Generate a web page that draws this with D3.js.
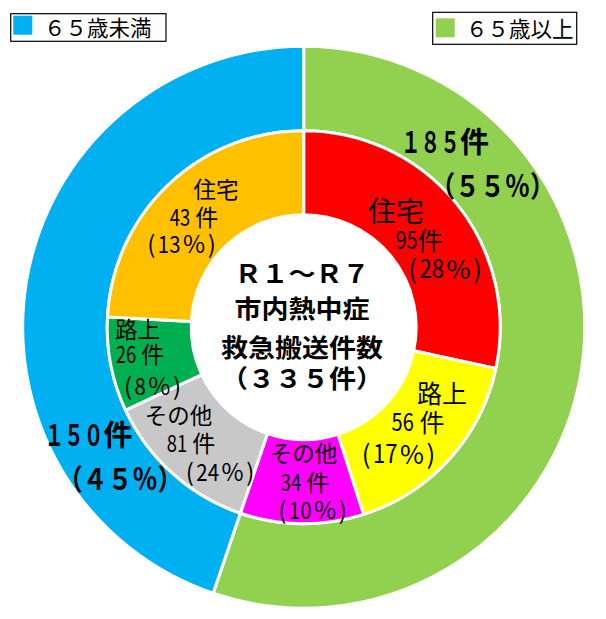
<!DOCTYPE html>
<html><head><meta charset="utf-8">
<script src="https://cdn.jsdelivr.net/npm/d3@7"></script>
<style>html,body{margin:0;padding:0;background:#fff;}svg{display:block;}text{white-space:pre;}</style>
</head><body>
<svg id="chart" width="606" height="619"></svg>
<script>
// ---- data ----
const outerCategories = ["６５歳以上", "６５歳未満"];
const outerValues = [185, 150];
// inner slices as drawn in the picture (angular sizes read from the rings)
const innerSliceValues = [95, 56, 34, 43, 26, 81];
// inner labels as printed on the picture
const innerCategories = ["住宅", "路上", "その他", "その他", "路上", "住宅"];
const innerGroups = ["６５歳以上", "６５歳以上", "６５歳以上", "６５歳未満", "６５歳未満", "６５歳未満"];
const innerLabelCounts = [95, 56, 34, 81, 26, 43];
const centerTitle = ["Ｒ１～Ｒ７", "市内熱中症", "救急搬送件数"];
const legendOrder = ["６５歳未満", "６５歳以上"];

// ---- styles / layout ----
const outerColors = {"６５歳以上": "#92D050", "６５歳未満": "#00B0F0"};
const innerColors = ["#FF0000", "#FFFF00", "#FF00FF", "#C8C8C8", "#00B050", "#FFC000"];
const FONT = "'Noto Sans CJK JP', 'Noto Sans', sans-serif";
const cx = 303.7, cy = 327.2;
const rOuter = 281, rMid = 196.5, rHole = 112.5;

const innerLabelLayout = [
  {x: [396, 419, 445], y: [210, 239, 267], jp: 28, num: 25, space: ""},
  {x: [442, 418, 398.5], y: [392, 421, 452], jp: 25, num: 25, space: " "},
  {x: [303.5, 305, 312.5], y: [452, 481, 508], jp: 22.5, num: 23, space: " "},
  {x: [178.5, 191, 220], y: [414, 442, 470], jp: 22.5, num: 23, space: " "},
  {x: [137.5, 140, 152.5], y: [328, 353, 384], jp: 22.5, num: 23, space: " "},
  {x: [216, 194, 181.5], y: [188, 216, 242], jp: 22.5, num: 23, space: " "}
];
const outerLabelLayout = [
  {x: [445, 492.5], y: [140, 185]},
  {x: [88.5, 120], y: [433, 478]}
];
const centerLineY = [272, 306.5, 346, 377];
const legendLayout = [
  {box: [10.7, 13.7, 155.3, 27.6], sw: [13.3, 15.7], tx: 44, ty: 26},
  {box: [432.7, 12.3, 144, 32], sw: [435.7, 18.3], tx: 466, ty: 27}
];

const total = d3.sum(outerValues);
const pct = v => Math.round(v / total * 100);
const toFull = s => String(s).replace(/[0-9]/g, c => String.fromCharCode(c.charCodeAt(0) + 0xFEE0));

const svg = d3.select("#chart");
const g = svg.append("g").attr("transform", `translate(${cx},${cy})`);

const pie = d3.pie().sort(null).value(d => d);
const outerArc = d3.arc().innerRadius(rMid).outerRadius(rOuter);
const innerArc = d3.arc().innerRadius(rHole).outerRadius(rMid);

g.selectAll("path.outer").data(pie(outerValues)).join("path")
  .attr("class", "outer")
  .attr("d", outerArc)
  .attr("fill", (d, i) => outerColors[outerCategories[i]])
  .attr("stroke", "#fff").attr("stroke-width", 3).attr("stroke-linejoin", "round");

g.selectAll("path.inner").data(pie(innerSliceValues)).join("path")
  .attr("class", "inner")
  .attr("d", innerArc)
  .attr("fill", (d, i) => innerColors[i])
  .attr("stroke", "#fff").attr("stroke-width", 3).attr("stroke-linejoin", "round");

// ---- text helper: narrow digits, separate paren runs ----
function drawLine(parent, x, y, str, opt) {
  const size = opt.size, weight = opt.weight || 400, dsx = opt.digitSx || 1, sx = opt.sx || 1, gap = opt.gap || 0;
  const runs = str.split(/([0-9０-９]+|[()%])/).filter(s => s.length)
    .map(s => [s, /^[0-9０-９]+$/.test(s) ? dsx : 1]);
  const grp = parent.append("g");
  const items = runs.map(([t, rsx]) => {
    const el = grp.append("text").text(t)
      .attr("font-family", FONT).attr("font-size", size).attr("font-weight", weight)
      .attr("fill", "#000").attr("dominant-baseline", "central");
    const w = el.node().getComputedTextLength() * rsx * sx;
    return {el, w, s: rsx * sx};
  });
  const tot = d3.sum(items, d => d.w) + gap * (items.length - 1);
  let xx = x - tot / 2;
  items.forEach(it => {
    it.el.attr("transform", `translate(${xx},${y}) scale(${it.s},1)`);
    xx += it.w + gap;
  });
}

// inner labels
innerLabelCounts.forEach((v, i) => {
  const L = innerLabelLayout[i];
  drawLine(svg, L.x[0], L.y[0], innerCategories[i], {size: L.jp});
  drawLine(svg, L.x[1], L.y[1], v + L.space + "件", {size: L.num, digitSx: 0.8});
  drawLine(svg, L.x[2], L.y[2], "(" + pct(v) + "%)", {size: L.num + 1, digitSx: 0.85, gap: 2.5});
});

// outer labels
outerValues.forEach((v, i) => {
  const L = outerLabelLayout[i];
  drawLine(svg, L.x[0], L.y[0], toFull(v) + "件", {size: 29, weight: 700, digitSx: 0.68});
  drawLine(svg, L.x[1], L.y[1], "（" + toFull(pct(v)) + "％）", {size: 29, weight: 700, sx: 0.86});
});

// center text
const centerLines = centerTitle.concat(["（" + toFull(total) + "件）"]);
centerLines.forEach((t, i) => {
  drawLine(svg, 302, centerLineY[i], t, {size: 25, weight: 700, sx: 1.08});
});

// legends
legendOrder.forEach((name, i) => {
  const L = legendLayout[i];
  svg.append("rect").attr("x", L.box[0]).attr("y", L.box[1]).attr("width", L.box[2]).attr("height", L.box[3])
    .attr("fill", "#fff").attr("stroke", "#000").attr("stroke-width", 1.2);
  svg.append("rect").attr("x", L.sw[0]).attr("y", L.sw[1]).attr("width", 19).attr("height", 19)
    .attr("fill", outerColors[name]);
  svg.append("text").attr("x", L.tx).attr("y", L.ty).text(name)
    .attr("font-family", FONT).attr("font-size", 21.5).attr("fill", "#000")
    .attr("dominant-baseline", "central");
});
</script>
</body></html>
